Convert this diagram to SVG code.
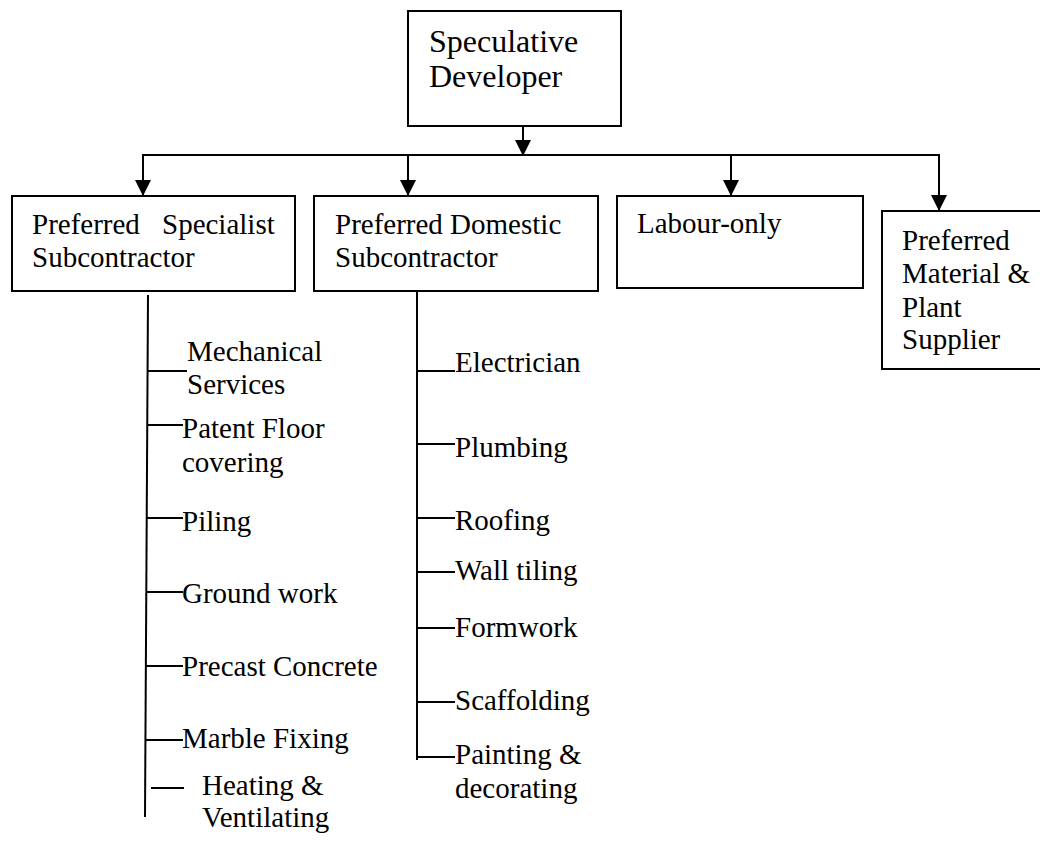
<svg xmlns="http://www.w3.org/2000/svg" width="1040" height="841" viewBox="0 0 1040 841">
<defs>
<marker id="ah" viewBox="0 0 16 16" refX="16" refY="8" markerWidth="16" markerHeight="16" markerUnits="userSpaceOnUse" orient="auto">
<path d="M0,0 L16,8 L0,16 Z" fill="#000"/>
</marker>
</defs>
<style>
.box{fill:#fff;stroke:#000;stroke-width:2}
.t{font-family:"Liberation Serif","Times New Roman",serif;font-size:29px;fill:#000}
.tt{font-family:"Liberation Serif","Times New Roman",serif;font-size:32px;fill:#000}
.ln{stroke:#000;stroke-width:2;fill:none}
.ar{stroke:#000;stroke-width:2;fill:none;marker-end:url(#ah)}
</style>
<rect width="1040" height="841" fill="#fff"/>
<g id="connectors">
<line class="ar" x1="523" y1="126" x2="523" y2="156"/>
<polyline class="ln" points="143,170 143,155 939,155 939,185"/>
<line class="ar" x1="143" y1="155" x2="143" y2="196"/>
<line class="ar" x1="408" y1="155" x2="408" y2="196"/>
<line class="ar" x1="731" y1="155" x2="731" y2="196"/>
<line class="ar" x1="939" y1="155" x2="939" y2="211"/>
<line class="ln" x1="148" y1="295" x2="145" y2="817"/>
<line class="ln" x1="147" y1="371" x2="187" y2="371"/>
<line class="ln" x1="147" y1="425" x2="183" y2="425"/>
<line class="ln" x1="147" y1="518" x2="183" y2="518"/>
<line class="ln" x1="146" y1="592" x2="183" y2="592"/>
<line class="ln" x1="146" y1="666" x2="183" y2="666"/>
<line class="ln" x1="146" y1="740" x2="183" y2="740"/>
<line class="ln" x1="151" y1="788" x2="184" y2="788"/>
<line class="ln" x1="417" y1="291" x2="417" y2="760"/>
<line class="ln" x1="417" y1="371" x2="455" y2="371"/>
<line class="ln" x1="417" y1="444" x2="455" y2="444"/>
<line class="ln" x1="417" y1="518" x2="455" y2="518"/>
<line class="ln" x1="417" y1="572" x2="455" y2="572"/>
<line class="ln" x1="417" y1="628" x2="455" y2="628"/>
<line class="ln" x1="417" y1="702" x2="455" y2="702"/>
<line class="ln" x1="417" y1="757" x2="455" y2="757"/>
</g>
<g id="speculative-developer">
<rect class="box" x="408" y="11" width="213" height="115"/>
<text class="tt" x="429" y="52">Speculative</text>
<text class="tt" x="429" y="87">Developer</text>
</g>
<g id="specialist">
<rect class="box" x="12" y="196" width="283" height="95"/>
<text class="t" x="32" y="234">Preferred <tspan x="162">Specialist</tspan></text>
<text class="t" x="32" y="267">Subcontractor</text>
</g>
<g id="domestic">
<rect class="box" x="314" y="196" width="284" height="95"/>
<text class="t" x="335" y="234">Preferred Domestic</text>
<text class="t" x="335" y="267">Subcontractor</text>
</g>
<g id="labour">
<rect class="box" x="617" y="196" width="246" height="92"/>
<text class="t" x="637" y="233">Labour-only</text>
</g>
<g id="supplier">
<rect class="box" x="882" y="211" width="170" height="158"/>
<text class="t" x="902" y="250">Preferred</text>
<text class="t" x="902" y="283">Material &amp;</text>
<text class="t" x="902" y="317">Plant</text>
<text class="t" x="902" y="349">Supplier</text>
</g>
<g id="specialist-items">
<text class="t" x="187" y="361">Mechanical</text>
<text class="t" x="187" y="394">Services</text>
<text class="t" x="182" y="438">Patent Floor</text>
<text class="t" x="182" y="472">covering</text>
<text class="t" x="182" y="531">Piling</text>
<text class="t" x="182" y="603">Ground work</text>
<text class="t" x="182" y="676">Precast Concrete</text>
<text class="t" x="182" y="748">Marble Fixing</text>
<text class="t" x="202" y="795">Heating &amp;</text>
<text class="t" x="202" y="827">Ventilating</text>
</g>
<g id="domestic-items">
<text class="t" x="455" y="372">Electrician</text>
<text class="t" x="455" y="457">Plumbing</text>
<text class="t" x="455" y="530">Roofing</text>
<text class="t" x="455" y="580">Wall tiling</text>
<text class="t" x="455" y="637">Formwork</text>
<text class="t" x="455" y="710">Scaffolding</text>
<text class="t" x="455" y="764">Painting &amp;</text>
<text class="t" x="455" y="798">decorating</text>
</g>
</svg>
